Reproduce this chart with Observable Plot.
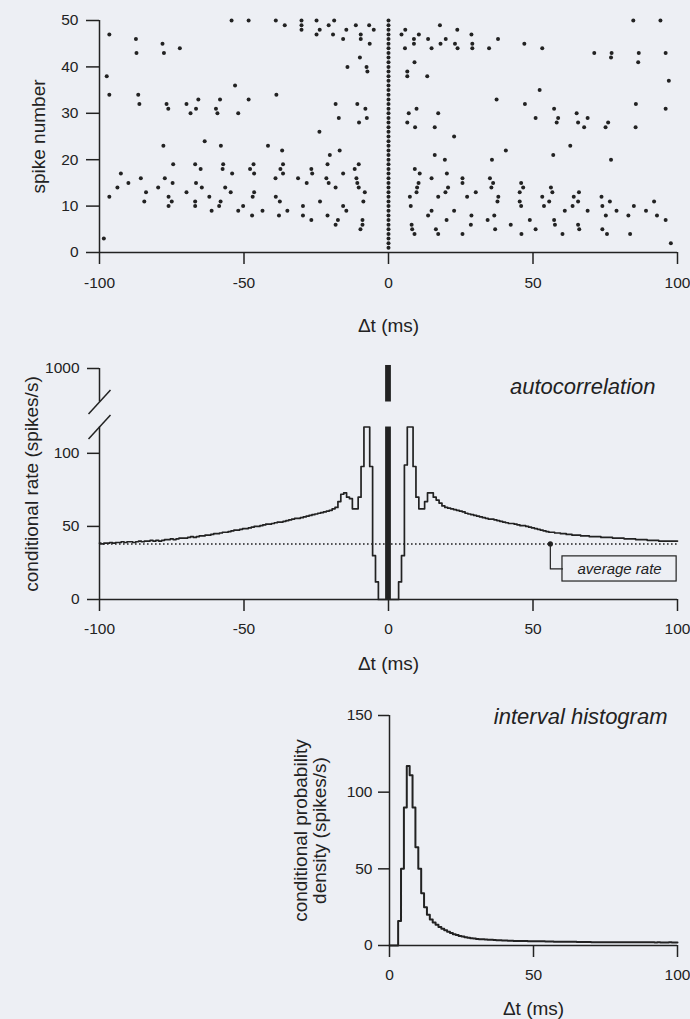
<!DOCTYPE html>
<html><head><meta charset="utf-8">
<script src="https://cdn.jsdelivr.net/npm/d3@7"></script>
<script src="https://cdn.jsdelivr.net/npm/@observablehq/plot@0.6"></script>
<style>
body{margin:0;background:#edeff4;}
#wrap{position:relative;width:690px;height:1019px;overflow:hidden;}
#wrap svg{position:absolute;left:0;}
</style></head><body><div id="wrap"></div>
<script>
const INK = "#222";
const BG = "#edeff4";
const FONT = '"Liberation Sans", Arial, Helvetica, sans-serif';

// ---------- Panel 1: raster (Δt ms, spike number) ----------
const rasterSpikes = [
[-96.6,47],[-97.5,38],[-96.6,34],[-96.6,12],[-98.5,3],[-87.4,46],[-87.2,43],[-86.6,34],[-86.2,32],[-92.6,17],[-93.8,14],[-90.0,15],[-85.7,16],[-83.9,13],[-84.5,11],[-78.2,45],[-77.7,43],[-72.2,44],[-76.8,32],[-76.2,31],[-69.9,32],[-68.5,30],[-66.6,31],[-65.8,33],[-59.7,31],[-59.2,30],[-58.3,33],[-52.0,30],[-53.1,36],[-54.3,50],[-77.9,23],[-74.5,19],[-77.4,16],[-74.7,15],[-79.7,14],[-76.1,12],[-75.0,11],[-76.1,10],[-69.9,13],[-66.9,19],[-65.0,18],[-66.6,15],[-64.6,14],[-66.9,11],[-66.9,10],[-63.6,24],[-62.0,12],[-61.2,9],[-58.0,23],[-57.2,19],[-57.4,18],[-54.1,17],[-56.5,14],[-54.6,13],[-58.1,11],[-58.6,10],[-52.0,9],[-50.3,10],
[-48.4,50],[-39.0,50],[-35.9,49],[-30.1,50],[-30.1,49],[-30.1,48],[-24.9,50],[-23.8,48],[-24.9,47],[-20.7,49],[-18.8,50],[-19.2,47],[-15.7,46],[-14.6,48],[-11.3,49],[-9.6,47],[-9.6,46],[-6.7,49],[-5.1,48],[-6.5,45],[-9.9,42],[-14.2,40],[-7.6,40],[-7.3,39],[-48.4,33],[-38.8,34],[-18.3,32],[-17.2,29],[-10.8,32],[-8.0,31],[-7.5,29],[-10.2,28],[-23.9,26],[-41.7,23],[-36.8,22],[-16.9,22],[-20.3,21],[-46.7,19],[-47.9,18],[-46.5,17],[-36.5,19],[-37.4,18],[-36.5,17],[-39.1,16],[-31.3,16],[-28.3,15],[-26.7,18],[-26.4,17],[-21.1,19],[-21.5,16],[-20.7,15],[-18.3,14],[-15.7,17],[-11.7,18],[-11.1,16],[-10.8,15],[-10.3,14],[-8.2,13],[-10.3,19],[-46.5,13],[-47.0,12],[-39.0,12],[-37.6,11],[-23.7,11],[-29.6,10],[-15.7,10],[-14.6,9],[-8.7,11],[-47.2,8],[-43.6,9],[-37.9,8],[-35.0,9],[-29.6,8],[-26.7,7],[-21.1,8],[-17.5,7],[-18.3,6],[-9.0,7],[-9.0,6],[-9.7,5],
[4.5,47],[5.8,48],[8.8,46],[8.8,45],[5.7,44],[10.5,47],[13.7,46],[14.9,44],[17.8,49],[18.0,45],[19.8,46],[23.8,48],[23.0,45],[23.9,44],[28.7,47],[29.0,45],[29.0,44],[34.8,44],[37.9,46],[47.0,45],[9.0,41],[6.5,39],[6.5,38],[13.4,38],[37.4,33],[47.2,32],[7.0,30],[9.7,31],[17.2,30],[6.5,28],[9.2,27],[16.0,27],[22.7,25],[16.0,21],[19.5,20],[35.8,20],[40.6,22],[9.1,18],[10.8,17],[14.9,16],[20.2,17],[25.6,16],[25.6,15],[35.1,16],[36.2,15],[35.6,14],[10.4,15],[9.9,14],[9.7,13],[7.4,12],[7.7,10],[17.2,12],[19.7,13],[20.6,14],[27.2,12],[30.2,13],[38.0,12],[37.7,11],[45.9,15],[46.6,14],[45.4,13],[45.4,11],[45.9,10],[14.9,9],[13.7,8],[22.7,9],[20.1,7],[28.7,8],[28.5,6],[34.3,7],[36.6,8],[42.3,6],[48.9,7],[8.0,6],[8.2,5],[9.0,4],[16.4,5],[17.2,4],[25.6,4],[36.9,5],[46.0,4],
[84.7,50],[94.1,50],[53.2,44],[71.2,43],[77.2,43],[77.0,42],[86.6,43],[95.9,43],[86.4,41],[97.0,37],[52.3,35],[85.6,32],[95.9,31],[57.3,31],[50.9,29],[58.7,29],[58.2,28],[65.1,30],[65.6,28],[67.7,27],[68.9,29],[76.0,28],[75.1,27],[85.5,27],[62.9,23],[57.0,21],[77.0,20],[56.2,14],[56.7,13],[53.2,12],[55.6,11],[53.8,10],[65.9,13],[64.1,12],[65.6,11],[63.7,10],[61.0,9],[68.9,9],[73.7,12],[76.6,11],[74.0,10],[75.2,8],[78.9,9],[83.0,8],[84.9,10],[89.1,9],[91.9,11],[92.9,8],[95.9,7],[57.3,7],[57.6,6],[50.9,5],[60.2,4],[65.6,6],[66.0,5],[74.0,5],[75.6,4],[83.6,4],[97.7,2]
];
// each reference spike at Δt = 0
const referenceSpikes = [1,2,3,4,5,6,7,8,9,10,11,12,13,14,15,16,17,18,19,20,21,22,23,24,25,26,27,28,29,30,31,32,33,34,35,36,37,38,39,40,41,42,43,44,45,46,47,48,49,50];
const lagTicks = [-100, -50, 0, 50, 100];
const spikeTicks = [0, 10, 20, 30, 40, 50];

// ---------- Panel 2: autocorrelation (1 ms bins) ----------
const rateLeft = [ // Δt = -100 ... -1
38.5,38,38.5,38.5,39,38.5,39,39,39.5,39,
39.5,39.5,39,39.5,40,39.5,40,40,40.5,40,
40.5,40,40.5,41,41,41.5,41,41.5,42,42,
42,42.5,43,42.5,43,43.5,43.5,44,44,44.5,
45,45,45.5,46,46,46.5,47,47.5,47.5,48,
48.5,48.5,49,49.5,50,50,50.5,51,51.5,51.5,
52,52.5,53,53,53.5,54,54.5,55,55.5,55.5,
56,56.5,57,57.5,58,58.5,59,59.5,60,60.5,
61,62,63,67,72,73,70,69,62,62,
70,91,118,119,91,30,12,0,0,0];
const rateRight = [ // Δt = 1 ... 100
0,0,0,12,30,92,119,118,91,70,
62,62,67,73,73,70,68,66,64,63,
62.5,62,61.5,61,60.5,60,59,58.5,58,57.5,
57,56.5,56,55.5,55,55,54.5,54,53.5,53,
52.5,52,52,51.5,51,50.5,50.5,50,49.5,49,
48.5,48,47.5,47,46.5,46,46,45.5,45.5,45,
45,44.5,44.5,44,44,44,43.5,43.5,43.5,43,
43,43,43,42.5,42.5,42.5,42.5,42,42,42,
42,41.5,41.5,41.5,41.5,41,41,41,41,40.5,
40.5,40.5,40.5,40,40,40,40,40,40,40];
const zeroLagBar = {x1: -1, x2: 1, rate: 1009};
const rateTicks = [0, 50, 100, 1000];
const breakLow = 118, breakHigh = 900;
const avgRate = 38;
const avgMarker = {dt: 56, rate: 38};
const avgBox = {x1: 60.2, x2: 99.7, y1: 12.3, y2: 29.5, label: "average rate"};

// ---------- Panel 3: interval histogram (1 ms bins, 0..100) ----------
const isiDensity = [
0,0,0,16,50,90,117,111,90,64,
50,34,25,20,17,15,13.5,12,11,10,
9,8.2,7.4,6.8,6.2,5.8,5.4,5.1,4.8,4.5,
4.3,4.1,4.0,3.9,3.8,3.7,3.6,3.5,3.4,3.3,
3.2,3.1,3.1,3.0,3.0,2.9,2.9,2.9,2.8,2.8,
2.8,2.7,2.7,2.7,2.6,2.6,2.6,2.5,2.5,2.5,
2.5,2.4,2.4,2.4,2.4,2.3,2.3,2.3,2.3,2.3,
2.2,2.2,2.2,2.2,2.2,2.2,2.2,2.2,2.2,2.2,
2.2,2.2,2.1,2.1,2.1,2.1,2.1,2.1,2.1,2.1,
2.1,2.1,2.0,2.1,2.0,2.0,2.0,2.1,2.0,2.0];
const isiXTicks = [0, 50, 100];
const isiYTicks = [0, 50, 100, 150];

const fmt = d => String(d);
const baseStyle = {fontFamily: FONT, fontSize: "15.5px", color: INK, background: "transparent", overflow: "visible"};
const wrap = document.getElementById("wrap");
function place(svg, top) { svg.style.top = top + "px"; wrap.appendChild(svg); }

// ---- Panel 1 ----
const p1 = Plot.plot({
  width: 690, height: 340, marginLeft: 99, marginRight: 13, marginTop: 20, marginBottom: 88,
  style: baseStyle,
  x: {domain: [-100, 100]}, y: {domain: [0, 50]},
  marks: [
    Plot.ruleX([-100], {y1: 0, y2: 50, stroke: INK, strokeWidth: 1.5}),
    Plot.ruleY([0], {x1: -100, x2: 100, stroke: INK, strokeWidth: 1.5}),
    Plot.axisX({ticks: lagTicks, tickSize: 12, tickPadding: 12, tickFormat: fmt, strokeWidth: 1.5, label: null}),
    Plot.axisY({ticks: spikeTicks, tickSize: 13, tickPadding: 8, tickFormat: fmt, strokeWidth: 1.5, label: null}),
    Plot.dot(referenceSpikes, {x: 0, y: d => d, r: 2, fill: INK}),
    Plot.dot(rasterSpikes, {x: d => d[0], y: d => d[1], r: 2, fill: INK}),
    Plot.text(["Δt (ms)"], {frameAnchor: "bottom", textAnchor: "middle", lineAnchor: "middle", dy: 73, fontSize: 19, fill: INK}),
    Plot.text(["spike number"], {frameAnchor: "left", textAnchor: "middle", lineAnchor: "middle", dx: -61, rotate: -90, fontSize: 19, fill: INK})
  ]
});
place(p1, 0);

// ---- Panel 2 (broken y axis: the 118..900 span is squeezed, 900..1000 compressed) ----
const rateUnitPx = 231 / 158.07;
const brk = d3.scaleLinear()
  .domain([0, breakLow, breakHigh, 1000])
  .range([0, breakLow, breakLow + 25 / rateUnitPx, breakLow + 58.5 / rateUnitPx]);
const slashHalf = {dx: 3.8, dy: 12 / rateUnitPx};
const slashes = [breakLow, breakHigh].map(v => ({
  x1: -100 - slashHalf.dx, y1: brk(v) - slashHalf.dy,
  x2: -100 + slashHalf.dx, y2: brk(v) + slashHalf.dy
}));
const rateBins = [
  ...rateLeft.map((r, i) => ({dt: i - 100, rate: r})),
  {dt: 0, rate: 0},
  ...rateRight.map((r, i) => ({dt: i + 1, rate: r}))
];
const boxMidY = (avgBox.y1 + avgBox.y2) / 2;
const p2 = Plot.plot({
  width: 690, height: 360, marginLeft: 99, marginRight: 13, marginTop: 28, marginBottom: 101,
  style: baseStyle,
  x: {domain: [-100, 100]},
  y: {domain: [0, brk(1000)]},
  marks: [
    Plot.ruleY([0], {x1: -100, x2: 100, stroke: INK, strokeWidth: 1.5}),
    Plot.ruleX([-100], {y1: 0, y2: brk(breakLow), stroke: INK, strokeWidth: 1.5}),
    Plot.ruleX([-100], {y1: brk(breakHigh), y2: brk(1000), stroke: INK, strokeWidth: 1.5}),
    Plot.link(slashes, {x1: "x1", y1: "y1", x2: "x2", y2: "y2", stroke: INK, strokeWidth: 1.5}),
    Plot.axisX({ticks: lagTicks, tickSize: 12, tickPadding: 11, tickFormat: fmt, strokeWidth: 1.5, label: null}),
    Plot.axisY({ticks: rateTicks.map(brk), tickSize: 12, tickPadding: 8, tickFormat: d => fmt(Math.round(brk.invert(d))), strokeWidth: 1.5, label: null}),
    Plot.ruleY([avgRate], {y: d => brk(d), x1: -100, x2: 100, stroke: INK, strokeWidth: 1.6, strokeDasharray: "1.6,2.4"}),
    Plot.line(rateBins, {x: "dt", y: d => brk(d.rate), curve: "step", stroke: INK, strokeWidth: 1.7}),
    Plot.rect([zeroLagBar], {x1: "x1", x2: "x2", y1: 0, y2: d => brk(d.rate), fill: INK}),
    Plot.rect([zeroLagBar], {x1: d => d.x1 - 0.8, x2: d => d.x2 + 0.8, y1: brk(breakLow), y2: brk(breakHigh), fill: BG}),
    Plot.line([[avgMarker.dt, avgMarker.rate], [avgMarker.dt, boxMidY], [avgBox.x1, boxMidY]], {x: d => d[0], y: d => brk(d[1]), stroke: INK, strokeWidth: 1.2}),
    Plot.dot([avgMarker], {x: "dt", y: d => brk(d.rate), r: 2.6, fill: INK}),
    Plot.rect([avgBox], {x1: "x1", x2: "x2", y1: d => brk(d.y1), y2: d => brk(d.y2), fill: "none", stroke: INK, strokeWidth: 1.2}),
    Plot.text([avgBox], {x: d => (d.x1 + d.x2) / 2, y: d => brk(boxMidY), text: "label", fontStyle: "italic", fontSize: 15, fill: INK}),
    Plot.text(["autocorrelation"], {frameAnchor: "top-right", textAnchor: "end", lineAnchor: "bottom", dx: -22, dy: 25, fontStyle: "italic", fontSize: 22, fill: INK}),
    Plot.text(["Δt (ms)"], {frameAnchor: "bottom", textAnchor: "middle", lineAnchor: "middle", dy: 64, fontSize: 19, fill: INK}),
    Plot.text(["conditional rate (spikes/s)"], {frameAnchor: "left", textAnchor: "middle", lineAnchor: "middle", dx: -68, rotate: -90, fontSize: 19, fill: INK})
  ]
});
place(p2, 340);

// ---- Panel 3 ----
const isiBins = [
  ...isiDensity.map((v, k) => ({dt: k, density: v})),
  {dt: 100, density: isiDensity[isiDensity.length - 1]}
];
const p3 = Plot.plot({
  width: 690, height: 319, marginLeft: 389, marginRight: 13, marginTop: 15, marginBottom: 74,
  style: baseStyle,
  x: {domain: [0, 100]}, y: {domain: [0, 150]},
  marks: [
    Plot.ruleX([0], {y1: 0, y2: 150, stroke: INK, strokeWidth: 1.5}),
    Plot.ruleY([0], {x1: 0, x2: 100, stroke: INK, strokeWidth: 1.5}),
    Plot.axisX({ticks: isiXTicks, tickSize: 12, tickPadding: 11, tickFormat: fmt, strokeWidth: 1.5, label: null}),
    Plot.axisY({ticks: isiYTicks, tickSize: 11, tickPadding: 6, tickFormat: fmt, strokeWidth: 1.5, label: null}),
    Plot.line(isiBins, {x: "dt", y: "density", curve: "step-after", stroke: INK, strokeWidth: 2}),
    Plot.text(["interval histogram"], {frameAnchor: "top-right", textAnchor: "end", lineAnchor: "bottom", dx: -10, dy: 8, fontStyle: "italic", fontSize: 22, fill: INK}),
    Plot.text(["Δt (ms)"], {frameAnchor: "bottom", textAnchor: "middle", lineAnchor: "middle", dy: 63, fontSize: 19, fill: INK}),
    Plot.text(["conditional probability\ndensity (spikes/s)"], {frameAnchor: "left", textAnchor: "middle", lineAnchor: "middle", dx: -79, rotate: -90, fontSize: 19, lineHeight: 1.0, fill: INK})
  ]
});
place(p3, 700);
</script></body></html>
